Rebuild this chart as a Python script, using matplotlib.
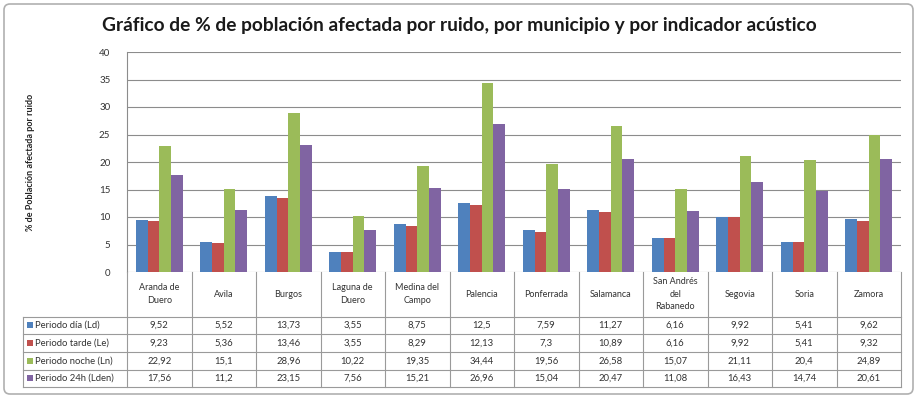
import numpy as np
import matplotlib
matplotlib.use("Agg")
import matplotlib.pyplot as plt
from matplotlib.patches import FancyBboxPatch, Rectangle

plt.rcParams['font.family'] = ['Lato', 'DejaVu Sans']

municipios = ["Aranda de\nDuero", "Avila", "Burgos", "Laguna de\nDuero", "Medina del\nCampo",
              "Palencia", "Ponferrada", "Salamanca", "San Andrés\ndel\nRabanedo", "Segovia",
              "Soria", "Zamora"]
dia = [9.52, 5.52, 13.73, 3.55, 8.75, 12.5, 7.59, 11.27, 6.16, 9.92, 5.41, 9.62]
tarde = [9.23, 5.36, 13.46, 3.55, 8.29, 12.13, 7.3, 10.89, 6.16, 9.92, 5.41, 9.32]
noche = [22.92, 15.1, 28.96, 10.22, 19.35, 34.44, 19.56, 26.58, 15.07, 21.11, 20.4, 24.89]
dia24 = [17.56, 11.2, 23.15, 7.56, 15.21, 26.96, 15.04, 20.47, 11.08, 16.43, 14.74, 20.61]

series_names = ["Periodo día (Ld)", "Periodo tarde (Le)", "Periodo noche (Ln)", "Periodo 24h (Lden)"]
colors = ["#4F81BD", "#C0504D", "#9BBB59", "#8064A2"]
series = [dia, tarde, noche, dia24]

W, H = 918, 399
fig = plt.figure(figsize=(W / 100, H / 100), dpi=100)

# pixel geometry of the plot area
left, right, top, bottom = 127, 901, 52, 272
ax = fig.add_axes([left / W, 1 - bottom / H, (right - left) / W, (bottom - top) / H])

n = len(municipios)
x = np.arange(n)
bw = 0.182
for k, (vals, c) in enumerate(zip(series, colors)):
    ax.bar(x + (k - 1.5) * bw, vals, width=bw, color=c, edgecolor='none', zorder=3)

ax.set_xlim(-0.5, n - 0.5)
ax.set_ylim(0, 40)
ax.set_yticks(range(0, 41, 5))
ax.set_xticks([])
ax.yaxis.grid(True, color='#8c8c8c', linewidth=0.8, zorder=0)
for s in ['top', 'right', 'bottom']:
    ax.spines[s].set_visible(False)
ax.spines['left'].set_color('#8c8c8c')
ax.tick_params(axis='y', length=0, labelsize=7, colors='#333333', pad=12)
ax.set_ylabel("% de Población afectada por ruido", fontsize=6.5, fontweight='bold',
              labelpad=46, color='#222222')

# overlay in pixel coordinates for the data table and frame
ov = fig.add_axes([0, 0, 1, 1], zorder=-1)
ov.set_xlim(0, W)
ov.set_ylim(H, 0)
ov.axis('off')

ov.add_patch(FancyBboxPatch((4, 4), W - 9, H - 9, boxstyle="round,pad=0,rounding_size=6",
                            facecolor='white', edgecolor='#b0b0b0', linewidth=1.2))

ov2 = fig.add_axes([0, 0, 1, 1])
ov2.set_xlim(0, W)
ov2.set_ylim(H, 0)
ov2.axis('off')

cw = (right - left) / n
hdr_bot = 316.5
row_h = 17.7
rows_y = [hdr_bot + i * row_h for i in range(5)]
tab_bot = rows_y[-1]
lc = '#9a9a9a'

# header row + columns
for i in range(n + 1):
    xx = left + i * cw
    ov2.plot([xx, xx], [bottom, tab_bot], color=lc, lw=0.8)
for yy in rows_y:
    ov2.plot([23, right], [yy, yy], color=lc, lw=0.8)
ov2.plot([23, 23], [hdr_bot, tab_bot], color=lc, lw=0.8)

for i, name in enumerate(municipios):
    ov2.text(left + (i + 0.5) * cw, (bottom + hdr_bot) / 2, name, ha='center', va='center',
             fontsize=6.5, color='#333333', linespacing=1.5)

for r, (vals, c, sname) in enumerate(zip(series, colors, series_names)):
    yc = rows_y[r] + row_h / 2
    ov2.add_patch(Rectangle((27, yc - 3), 6, 6, facecolor=c, edgecolor='none'))
    ov2.text(35, yc, sname, ha='left', va='center', fontsize=6.8, color='#333333')
    for i, v in enumerate(vals):
        ov2.text(left + (i + 0.5) * cw, yc, str(v).replace('.', ','), ha='center', va='center',
                 fontsize=6.8, color='#333333')

fig.text(459 / W, 1 - 25 / H,
         "Gráfico de % de población afectada por ruido, por municipio y por indicador acústico",
         ha='center', va='center', fontsize=13.8, fontweight='bold', color='#1a1a1a')

fig.savefig("out.png", dpi=100)
